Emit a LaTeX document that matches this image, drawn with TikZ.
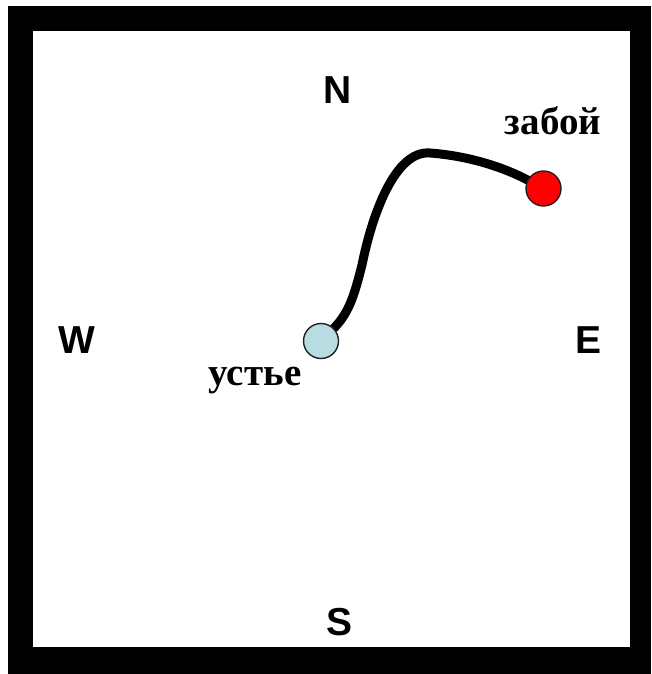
\documentclass[tikz,border=0pt]{standalone}
\usepackage{fontspec}
\setmainfont{Liberation Serif}
\newfontfamily\compassfont{Liberation Sans}
\usetikzlibrary{
  positioning,
  backgrounds
}
\definecolor{wellHead}{HTML}{B7DDE2}
\definecolor{wellBottom}{HTML}{FF0000}
\definecolor{wellEdge}{HTML}{202020}
\tikzset{
  welldot/.style={
    circle, draw=wellEdge, line width=1.4pt, minimum size=35pt, inner sep=0pt
  },
  compass/.style={font=\compassfont\bfseries\fontsize{39}{44}\selectfont, anchor=base, inner sep=0pt},
  welltag/.style={font=\bfseries\fontsize{39}{44}\selectfont, anchor=base, inner sep=0pt},
  frame/.style={fill=black},
  field/.style={fill=white},
  trackline/.style={line width=9pt, black, line cap=round}
}

\begin{document}
\begin{tikzpicture}[x=1pt, y=-1pt]
  \useasboundingbox (0,0) rectangle (651,674);
  % compass letters
  \node[compass] (north) at (338,103) {N};
  \node[compass] (south) at (340,635) {S};
  \node[compass] (west) at (77,353) {W};
  \node[compass] (east) at (588,353) {E};
  % well head and bottom hole
  \node[welldot, fill=wellHead] (ustye) at (321,341) {};
  \node[welldot, fill=wellBottom] (zaboy) at (543.5,188.5) {};
  \node[welltag] (ustyelbl) at (255,385) {устье};
  \node[welltag] (zaboylbl) at (553,135) {забой};
  \begin{scope}[on background layer]
    \fill[frame] (7.7,6) rectangle (651,674);
    \fill[field] (33,31) rectangle (630,647);
    \draw[trackline] (ustye) .. controls (350,312) and (355,292) .. (362,265)
      .. controls (372,215) and (395,150) .. (430,153)
      .. controls (470,156) and (505,168) .. (zaboy);
  \end{scope}
\end{tikzpicture}
\end{document}
